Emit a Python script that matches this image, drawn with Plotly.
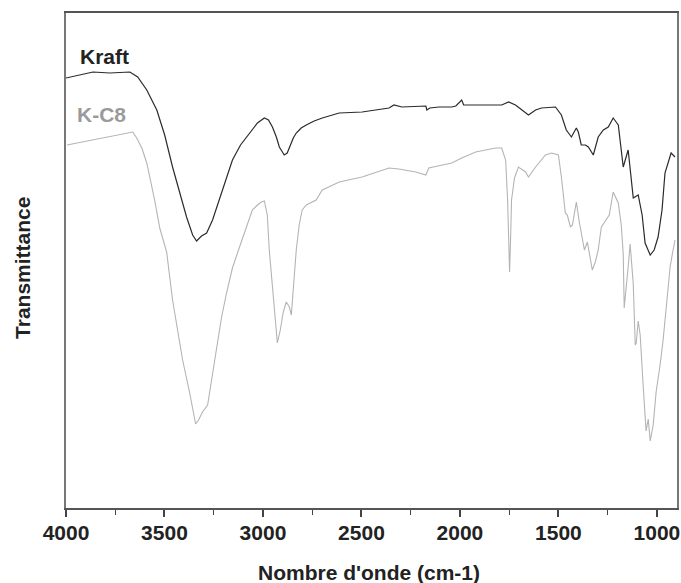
import plotly.graph_objects as go

# Kraft spectrum (wavenumber cm-1, transmittance a.u.)
kraft_wn = [4000, 3863, 3777, 3676, 3636, 3590, 3539, 3499, 3459, 3423, 3388, 3357, 3337, 3312,
            3286, 3256, 3221, 3185, 3155, 3114, 3069, 3028, 2993, 2972, 2952, 2932, 2917, 2892,
            2877, 2866, 2846, 2831, 2806, 2780, 2740, 2699, 2613, 2497, 2360, 2335, 2295, 2173,
            2168, 2153, 2107, 2042, 2021, 1991, 1981, 1788, 1753, 1718, 1682, 1652, 1616, 1586,
            1515, 1485, 1460, 1434, 1409, 1399, 1384, 1363, 1348, 1323, 1298, 1272, 1247, 1222,
            1207, 1196, 1171, 1146, 1120, 1095, 1075, 1060, 1034, 1014, 994, 974, 959, 928, 908]
kraft_t = [430, 436, 435, 436, 431, 418, 398, 373, 341, 316, 291, 273, 267, 272,
           275, 288, 308, 330, 348, 363, 375, 385, 390, 388, 381, 371, 361, 353,
           355, 361, 370, 375, 380, 383, 387, 390, 395, 396, 400, 403, 401, 402,
           398, 400, 401, 401, 402, 408, 403, 403, 406, 403, 398, 393, 398, 400,
           401, 393, 378, 371, 380, 376, 363, 363, 361, 353, 371, 378, 381, 390,
           386, 383, 341, 358, 310, 313, 293, 265, 253, 258, 271, 298, 335, 355, 351]

# K-C8 spectrum
kc8_wn = [3995, 3894, 3793, 3691, 3661, 3641, 3615, 3590, 3570, 3550, 3524, 3489, 3459, 3433,
          3408, 3372, 3352, 3342, 3327, 3307, 3281, 3261, 3236, 3211, 3185, 3155, 3119, 3084,
          3054, 3028, 3008, 2993, 2978, 2968, 2952, 2937, 2927, 2912, 2897, 2882, 2866, 2856,
          2841, 2831, 2816, 2801, 2780, 2730, 2699, 2664, 2613, 2497, 2360, 2310, 2224, 2173,
          2158, 2042, 1991, 1920, 1819, 1788, 1768, 1758, 1753, 1748, 1743, 1738, 1723, 1703,
          1667, 1652, 1616, 1566, 1535, 1500, 1485, 1465, 1455, 1439, 1429, 1409, 1394, 1368,
          1353, 1343, 1328, 1313, 1298, 1282, 1242, 1222, 1196, 1181, 1171, 1166, 1156, 1146,
          1136, 1120, 1110, 1105, 1095, 1085, 1070, 1055, 1044, 1034, 1019, 1004, 984, 969,
          949, 933, 918, 908]
kc8_t = [363, 367, 371, 375, 376, 370, 360, 345, 328, 308, 280, 256, 208, 178,
         148, 115, 93, 84, 88, 96, 103, 128, 161, 190, 215, 240, 261, 280,
         298, 303, 306, 307, 293, 258, 220, 188, 165, 178, 196, 206, 201, 193,
         228, 258, 283, 298, 303, 308, 318, 321, 326, 331, 340, 339, 336, 333,
         340, 345, 350, 356, 360, 360, 348, 308, 275, 236, 268, 308, 330, 341,
         336, 331, 341, 353, 355, 353, 331, 295, 293, 281, 283, 306, 286, 258,
         266, 253, 238, 246, 258, 281, 293, 316, 305, 283, 254, 200, 218, 241,
         264, 224, 163, 165, 187, 173, 123, 77, 89, 67, 83, 116, 143, 167,
         208, 241, 258, 268]

tick_vals = [4000, 3500, 3000, 2500, 2000, 1500, 1000]
tick_text = ["4000", "3500", "3000", "2500", "2000", "1500", "1000"]

FONT = "Liberation Sans, Arial, sans-serif"
TXT = dict(family=FONT, size=21, color="#222", weight="bold")

fig = go.Figure()
fig.add_trace(go.Scatter(x=kc8_wn, y=kc8_t, mode="lines", name="K-C8",
                         line=dict(color="#b4b4b4", width=1.1)))
fig.add_trace(go.Scatter(x=kraft_wn, y=kraft_t, mode="lines", name="Kraft",
                         line=dict(color="#2a2a2a", width=1.2)))

fig.add_annotation(x=3806, y=452, text="Kraft", showarrow=False, font=TXT)
fig.add_annotation(x=3820, y=394, text="K-C8", showarrow=False,
                   font=dict(family=FONT, size=21, color="#9a9a9a", weight="bold"))

# axis titles
fig.add_annotation(xref="paper", yref="paper", x=0.496, y=0, yshift=-64,
                   xanchor="center", yanchor="middle", showarrow=False,
                   text="Nombre d'onde (cm-1)", font=TXT)
fig.add_annotation(xref="paper", yref="paper", x=0, xshift=-43, y=0.485,
                   xanchor="center", yanchor="middle", showarrow=False, textangle=-90,
                   text="Transmittance", font=TXT)

fig.update_layout(
    width=681, height=583,
    margin=dict(l=66, r=2, t=13, b=75),
    paper_bgcolor="white", plot_bgcolor="white",
    showlegend=False,
    xaxis=dict(range=[4000, 898], tickvals=tick_vals, ticktext=tick_text,
               ticks="outside", ticklen=7, tickwidth=1.5, tickcolor="#444",
               ticklabelstandoff=-2,
               minor=dict(dtick=250, ticks="outside", ticklen=5, tickcolor="#444", tickwidth=1),
               showline=True, linecolor="#555", linewidth=1.5, mirror=True,
               showgrid=False, zeroline=False, tickfont=TXT),
    yaxis=dict(range=[0, 495], showticklabels=False, ticks="",
               showline=True, linecolor="#777", linewidth=1.5, mirror=True,
               showgrid=False, zeroline=False),
)

fig.write_html("out.html", config={"displayModeBar": False},
               post_script="document.body.style.margin='0';document.body.style.overflow='hidden';")
